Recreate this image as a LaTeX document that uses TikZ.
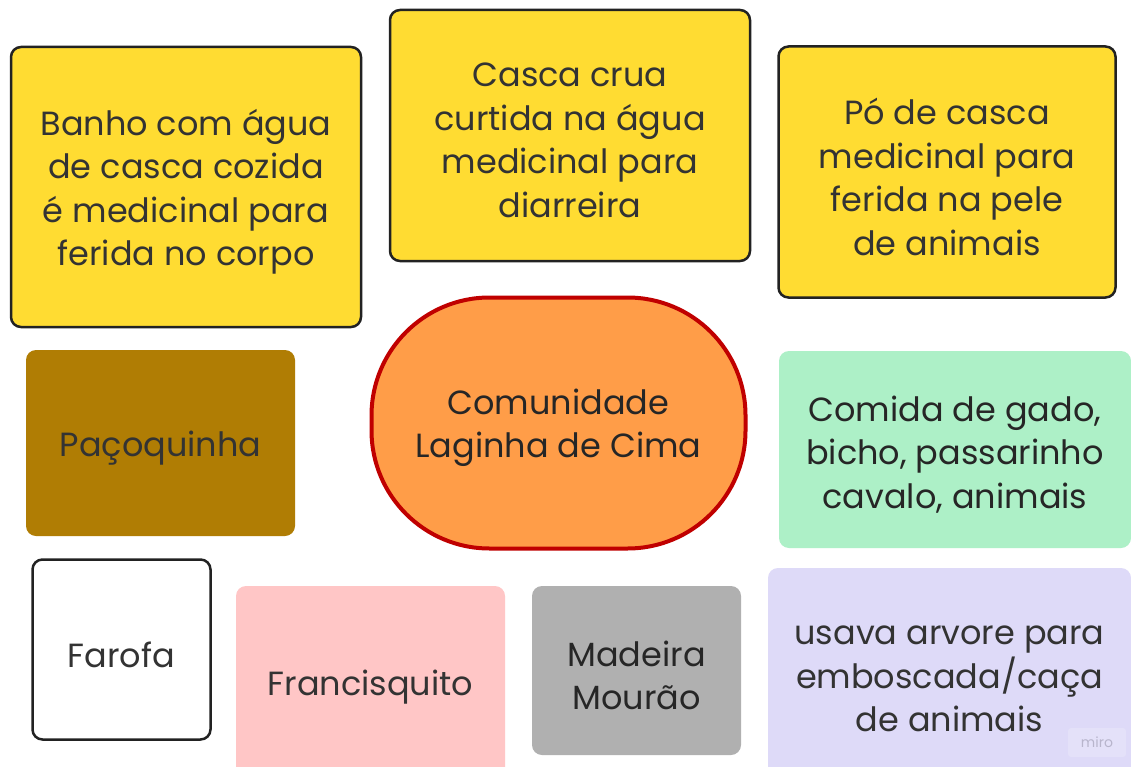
\documentclass[tikz,border=0pt]{standalone}
\usepackage{fontspec}
\setmainfont{Poppins}
\definecolor{yel}{HTML}{FFDC32}
\definecolor{edge}{HTML}{222222}
\definecolor{ink}{HTML}{333333}
\definecolor{brownfill}{HTML}{B07D04}
\definecolor{orangefill}{HTML}{FF9D48}
\definecolor{redline}{HTML}{C00000}
\definecolor{greenfill}{HTML}{ADF0C7}
\definecolor{pinkfill}{HTML}{FFC6C6}
\definecolor{greyfill}{HTML}{B0B0B0}
\definecolor{lilac}{HTML}{DEDAF8}
\definecolor{wmfill}{HTML}{E4E1F9}
\definecolor{wmtext}{HTML}{B8B5CC}
\begin{document}
\begin{tikzpicture}[x=1pt,y=-1pt,
  card/.style={rectangle, rounded corners=10pt, inner sep=0pt, outer sep=0pt},
  txt/.style={align=center, inner sep=0pt, text=ink, yshift=-5pt,
    font=\fontsize{33.5}{43.5}\selectfont},
  dark/.style={text=black!85},
  sticky/.style={card, fill=yel, draw=edge, line width=2.5pt}]
\useasboundingbox (0,0) rectangle (1131,767);
\fill[white] (0,0) rectangle (1131,767);
\begin{scope}
\clip (0,0) rectangle (1131,767);
\node[sticky, minimum width=350pt, minimum height=280pt,
  label={[txt]center:{Banho com água\\de casca cozida\\é medicinal para\\ferida no corpo}}] (banho) at (186,187) {};
\node[sticky, minimum width=360pt, minimum height=251pt,
  label={[txt]center:{Casca crua\\curtida na água\\medicinal para\\diarreira}}] (casca) at (570,135.5) {};
\node[sticky, minimum width=337pt, minimum height=251pt,
  label={[txt]center:{Pó de casca\\medicinal para\\ferida na pele\\de animais}}] (po) at (947,172) {};
\node[card, fill=brownfill, minimum width=269pt, minimum height=186pt,
  label={[txt]center:{Paçoquinha}}] (pacoca) at (160.5,443) {};
\node[card, fill=orangefill, draw=redline, line width=4pt, rounded corners=118pt,
  minimum width=374pt, minimum height=251pt,
  label={[txt,dark]center:{Comunidade\\Laginha de Cima}}] (comunidade) at (558.5,423) {};
\node[card, fill=greenfill, minimum width=352pt, minimum height=197pt,
  label={[txt,dark]center:{Comida de gado,\\bicho, passarinho\\cavalo, animais}}] (comida) at (955,449.5) {};
\node[card, fill=white, draw=edge, line width=2.5pt, minimum width=178pt, minimum height=180pt,
  label={[txt]center:{Farofa}}] (farofa) at (121.5,649.5) {};
\node[card, fill=pinkfill, minimum width=269pt, minimum height=192pt,
  label={[txt]center:{Francisquito}}] (francisquito) at (370.5,682) {};
\node[card, fill=greyfill, minimum width=209pt, minimum height=169pt,
  label={[txt,dark]center:{Madeira\\Mourão}}] (madeira) at (636.5,670.5) {};
\node[card, fill=lilac, minimum width=363pt, minimum height=212pt,
  label={[txt]center:{usava arvore para\\emboscada/caça\\de animais}}] (usava) at (949.5,674) {};
\node[rectangle, rounded corners=3pt, fill=wmfill, text=wmtext, inner sep=0pt,
  minimum width=58pt, minimum height=29pt, font=\fontsize{14}{16}\selectfont] (miro) at (1097,742.5) {miro};
\end{scope}
\end{tikzpicture}
\end{document}
